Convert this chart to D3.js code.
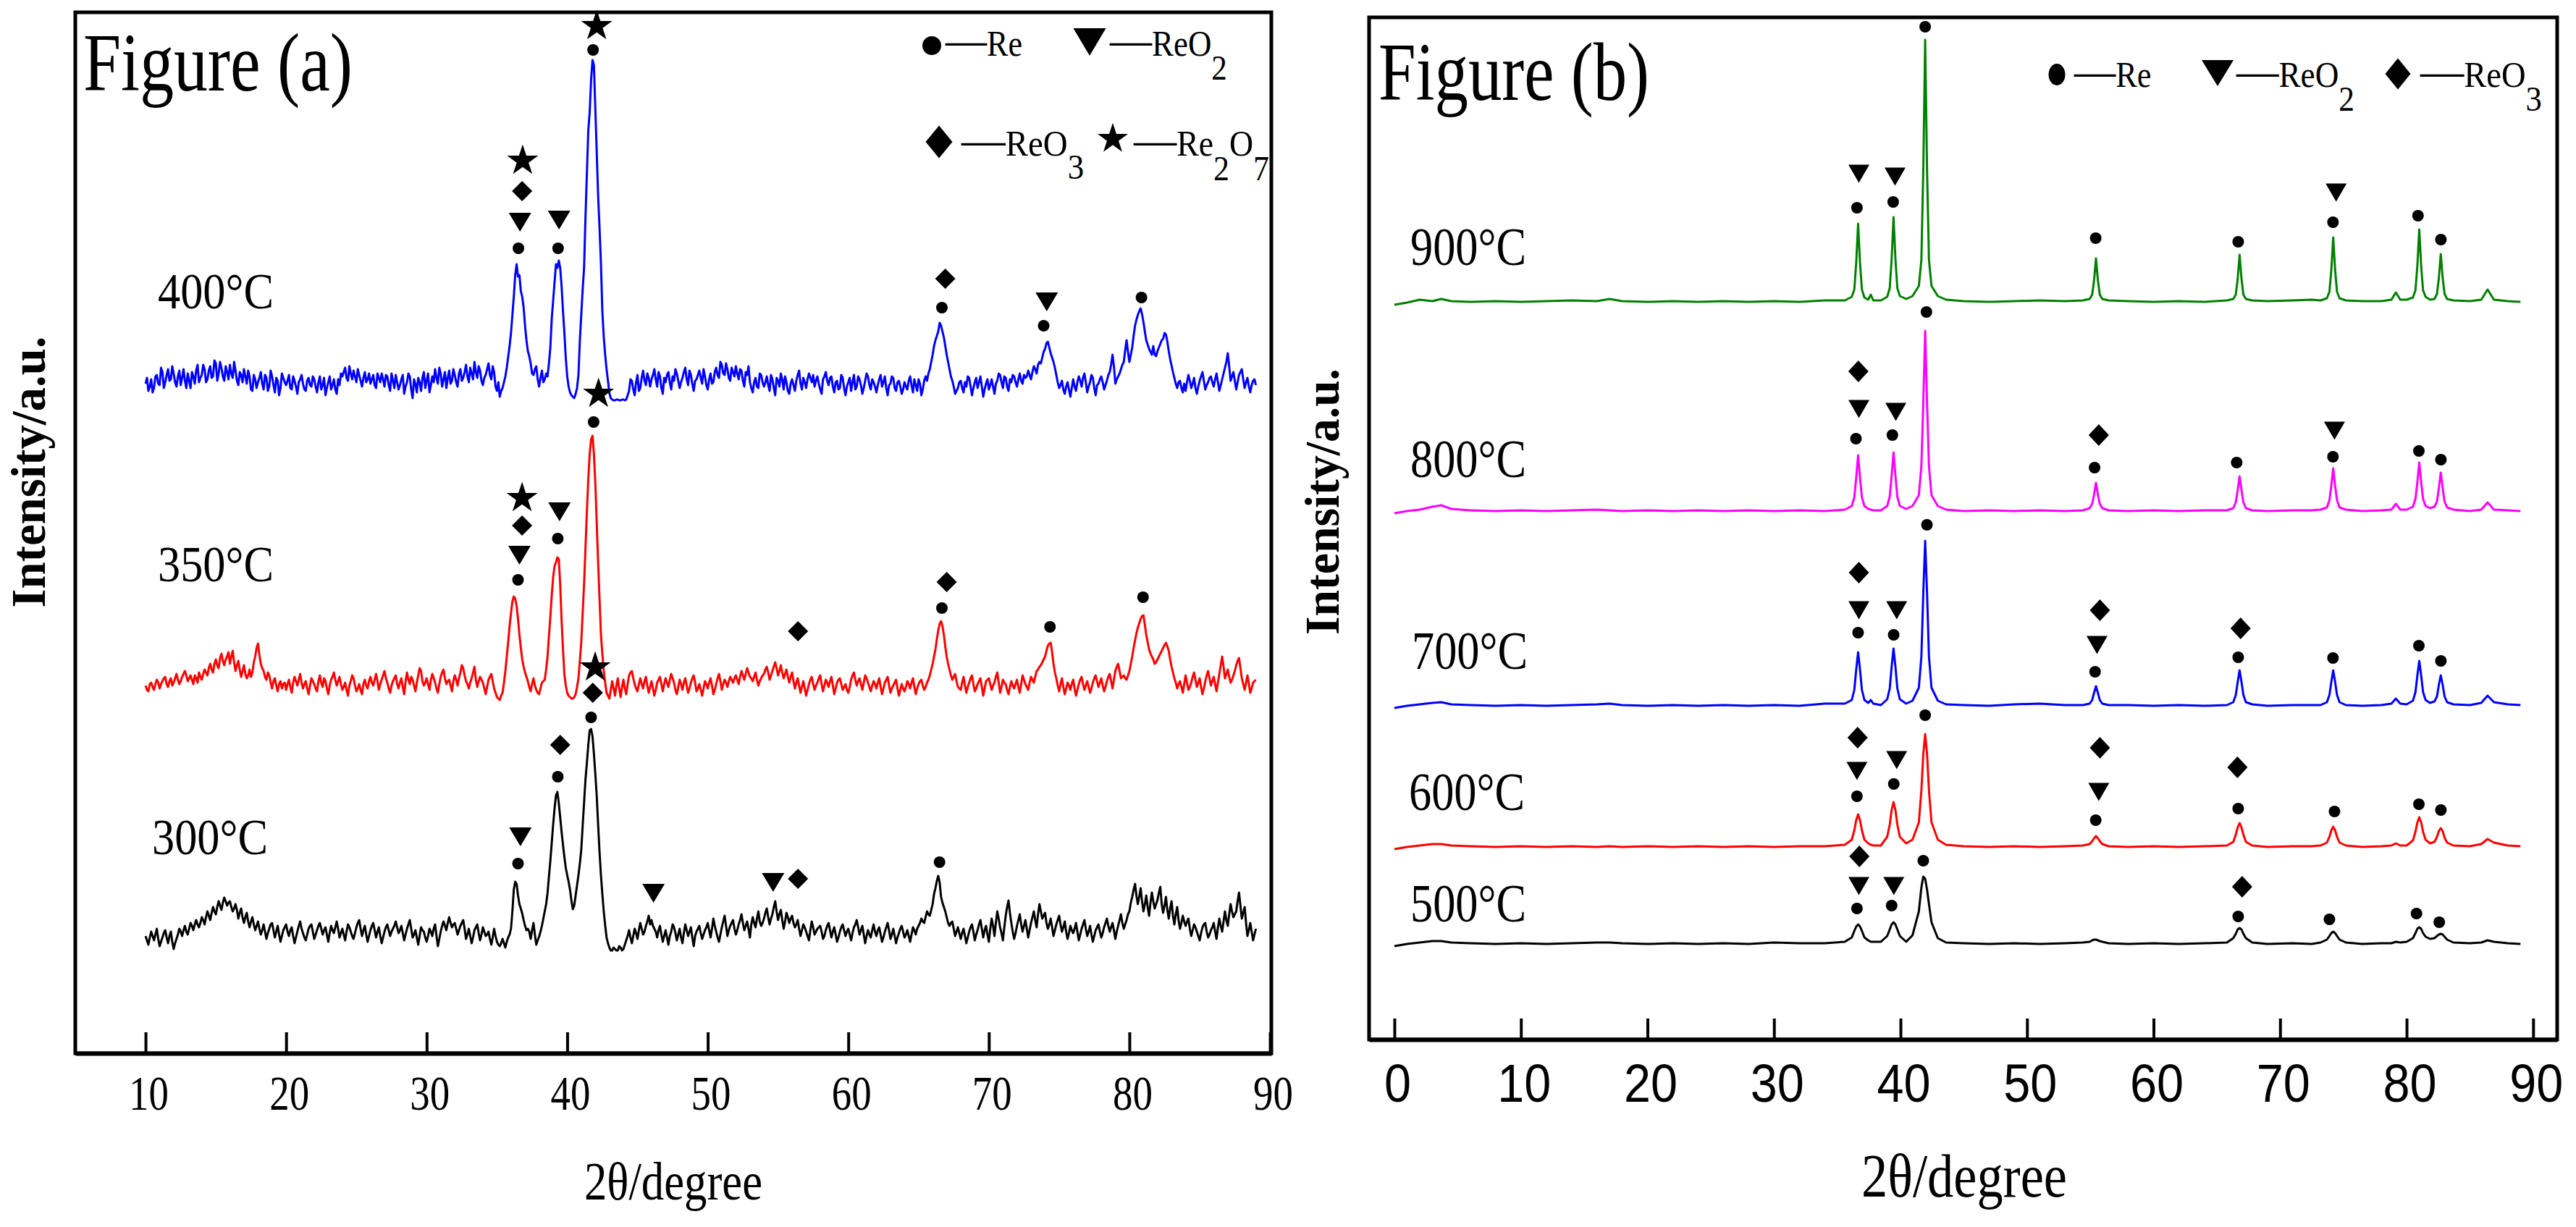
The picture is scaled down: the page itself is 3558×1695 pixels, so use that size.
<!DOCTYPE html>
<html><head><meta charset="utf-8">
<script src="https://cdn.jsdelivr.net/npm/d3@7/dist/d3.min.js"></script>
<style>html,body{margin:0;padding:0;background:#fff;} svg{display:block;}</style>
</head><body>
<svg id="chart" width="3558" height="1695"></svg>
<script>
// ================= DATA =================
// Figure (a): readings at 10.0, 10.2, ... 89.0 (main) and 10.1, 10.3, ... 88.9 (mid) degree 2-theta
const startA = 10, stepA = 0.2;
const ticksA = [10, 20, 30, 40, 50, 60, 70, 80, 90];
const seriesNamesA = ["300°C", "350°C", "400°C"];
const offsetsA = [166, 508, 925];
const intensity300 = [
 -4,-16,2,-10,6,-18,-6,4,-14,2,
 -22,-8,6,-4,10,-2,14,4,18,8,
 22,12,30,18,36,26,44,32,49,38,
 44,30,40,20,34,14,28,8,22,4,
 16,-2,12,-8,6,14,-6,10,-12,4,
 12,-4,8,-14,2,16,0,-10,6,12,
 -8,4,14,-2,8,-12,10,0,16,-6,
 6,-10,12,2,-8,8,18,-4,10,-12,
 4,14,-6,8,-14,2,12,-4,6,16,
 0,10,-10,6,18,-6,4,-16,8,2,
 -12,6,-4,12,-18,2,16,4,22,8,
 14,-2,10,18,-8,6,-14,4,12,-10,
 8,-4,2,-16,6,-12,-18,-8,-20,-6,
 6,60,68,40,27,10,6,-8,14,-16,
 -5,10,30,55,100,150,190,180,140,105,
 80,60,33,52,80,115,180,235,280,272,
 220,150,80,30,-6,-20,-24,-22,-24,-20,
 -22,-10,4,-14,6,-8,14,-2,10,24,
 18,6,-6,10,-12,4,-16,2,8,-10,
 6,-14,12,-4,8,-18,2,10,-8,4,
 14,-6,20,2,-12,8,24,-4,10,18,
 -2,12,26,4,16,-6,22,8,30,10,
 20,34,12,26,44,18,32,6,28,14,
 24,8,18,-4,12,2,-10,16,-2,6,
 10,-8,4,14,-6,8,-12,2,12,-4,
 6,-10,8,18,-2,10,-14,4,-6,12,
 -4,8,-12,2,14,-8,6,-14,0,10,
 -6,4,-12,8,-2,10,20,14,30,24,
 40,62,79,50,36,22,10,16,-4,8,
 -8,6,-14,2,12,-10,4,18,-6,10,
 -12,20,-4,30,8,-10,24,45,14,-8,
 10,26,2,18,-6,14,30,8,40,20,
 28,6,20,-4,12,24,2,16,-8,10,
 0,14,-10,6,18,-4,10,-12,4,12,
 -6,8,20,2,14,-8,10,26,6,18,
 30,50,68,40,62,30,52,24,56,34,
 46,64,28,50,20,44,12,36,6,24,
 10,20,-4,12,2,-10,8,14,-6,4,
 14,-8,20,2,30,10,40,22,30,56,
 20,36,-4,14,-10,6
];
const intensity300mid = [
 -10,-6,-4,-2,-8,-12,0,-6,-4,-12,
 -14,-2,2,4,2,6,10,12,12,14,
 18,22,24,28,30,36,38,42,44,42,
 36,34,32,28,22,22,16,16,12,10,
 6,4,2,0,12,4,2,-2,-4,8,
 2,4,-4,-6,10,6,-6,-2,10,2,
 -2,10,6,4,-2,0,4,8,6,0,
 -2,2,8,-4,0,14,6,4,-2,-4,
 10,4,2,-4,-6,8,4,2,10,8,
 4,0,-2,12,6,-2,-6,-4,4,-6,
 -4,2,6,-4,-8,10,10,14,14,12,
 6,4,14,6,-2,-4,-6,8,0,-2,
 2,-2,-8,-6,-4,-16,-14,-14,-12,-2,
 30,71,52,34,18,4,2,4,-2,-10,
 2,20,40,78,125,172,195,160,122,90,
 71,45,38,66,96,148,212,260,282,248,
 190,112,54,11,-14,-24,-20,-24,-18,-24,
 -16,-4,-6,-4,0,4,6,2,16,12,
 10,2,4,-2,-4,-6,-4,12,0,-2,
 -6,0,4,2,-6,-4,6,0,-2,8,
 4,6,10,-6,-2,16,10,4,14,6,
 4,18,14,10,6,12,14,20,16,14,
 28,22,20,36,30,26,18,16,22,20,
 14,12,6,4,8,-4,4,8,2,8,
 2,-4,10,4,2,-2,-6,8,4,2,
 -2,0,12,8,4,-2,-4,-2,4,2,
 4,-2,-6,8,4,-2,-4,-6,6,2,
 -2,-4,-2,4,6,14,16,22,26,32,
 54,72,70,42,30,14,14,6,2,0,
 0,-4,-6,8,2,-2,12,6,4,-2,
 6,10,14,20,0,8,36,28,2,0,
 18,12,10,6,4,22,18,26,30,24,
 14,12,8,4,18,12,8,2,0,4,
 6,2,-2,12,6,2,-2,-4,8,2,
 0,14,10,8,4,2,18,14,12,26,
 42,60,52,50,44,40,36,42,44,40,
 56,40,38,32,34,24,26,18,14,16,
 16,6,4,8,-4,0,12,2,-2,8,
 2,8,10,16,18,26,30,26,44,38,
 28,14,4,2,-2
];
const intensity350 = [
 0,-8,4,-6,8,-4,6,12,-2,10,
 4,16,2,12,20,6,14,2,10,18,
 8,22,14,30,18,36,24,44,28,40,
 30,48,20,34,12,28,10,22,18,40,
 58,30,20,8,14,-4,10,-8,6,2,
 -6,8,-10,12,0,16,-4,6,-12,10,
 2,-8,14,-2,6,-12,8,18,0,12,
 -6,4,-14,6,10,-8,2,-12,8,-4,
 12,0,16,-6,8,20,4,-10,6,14,
 -4,10,-12,18,2,8,-8,14,20,0,
 10,-6,16,4,-10,12,22,2,8,-8,
 14,0,18,24,6,-4,10,26,-2,12,
 4,-12,8,16,-4,-16,-20,-10,20,60,
 100,123,110,70,36,18,6,-8,10,-6,
 -12,4,8,40,95,150,170,175,90,15,
 -10,-16,-18,-12,10,60,140,240,320,345,
 280,170,70,20,-10,-18,6,-14,10,-16,
 8,-12,14,20,2,-8,10,-4,12,-10,
 6,-14,4,12,-8,10,-2,16,4,-12,
 8,-6,10,-10,4,14,-8,2,-14,6,
 -4,10,-12,2,16,-6,8,-2,12,4,
 14,2,20,8,24,12,6,18,0,10,
 16,26,8,20,32,14,28,10,22,4,
 18,-4,10,-10,6,-14,2,12,-6,4,
 14,-8,8,-2,12,-12,4,10,-6,2,
 -10,8,18,0,10,-6,14,4,-8,6,
 -4,10,-12,4,12,-10,0,8,-14,2,
 -8,6,-4,10,-12,2,8,-6,4,14,
 30,50,76,89,70,40,22,8,16,-2,
 -6,12,-10,4,14,-8,2,10,-14,6,
 10,-6,4,18,-10,8,2,-12,6,-4,
 8,-10,14,2,-6,12,4,20,26,32,
 40,55,59,30,10,-8,10,-12,4,-6,
 8,-14,2,12,-6,6,-10,4,14,-2,
 10,-8,6,16,-4,20,30,10,14,8,
 20,40,62,80,92,97,70,50,40,30,
 36,44,52,59,48,26,10,-4,6,-10,
 14,-6,4,18,-2,10,-12,6,20,0,
 12,-8,16,40,10,22,4,14,28,38,
 10,-6,14,-10,4,8
];
const intensity350mid = [
 -6,2,-2,2,4,2,10,2,6,0,
 10,8,6,16,14,10,8,14,4,12,
 16,18,24,22,30,28,38,34,36,46,
 40,32,28,22,20,16,14,12,32,52,
 42,24,12,18,4,6,0,2,-4,4,
 2,-2,4,6,8,4,2,-4,0,6,
 -4,6,4,10,-4,0,12,8,6,2,
 -2,-6,0,14,0,-4,-6,2,0,6,
 4,8,6,2,14,10,-4,0,10,2,
 4,-2,6,8,12,0,4,24,6,4,
 2,8,10,-4,2,18,10,6,0,6,
 8,10,28,14,2,4,18,8,6,8,
 -4,-2,12,6,-10,-18,-14,4,40,82,
 116,120,92,52,26,12,-2,2,0,-10,
 -4,6,22,68,125,165,177,140,50,0,
 -14,-18,-16,-2,34,100,190,285,340,320,
 225,120,44,4,-14,-6,-4,0,-4,-2,
 -4,2,18,10,-4,2,2,6,0,-2,
 -4,-6,8,2,2,4,8,10,-6,-2,
 2,4,0,-4,10,4,-4,-6,-4,2,
 4,0,-6,10,6,2,4,6,8,10,
 8,12,14,16,18,10,12,8,6,14,
 22,18,14,26,24,20,18,16,12,12,
 6,4,0,-2,-4,-6,8,2,0,10,
 2,0,4,6,0,-4,8,2,-2,-6,
 -2,14,8,6,2,4,10,-2,0,2,
 4,-2,-4,8,0,-4,4,-4,-6,-4,
 -2,2,4,-2,-4,6,0,-2,8,22,
 40,64,85,82,54,30,14,12,6,-4,
 4,0,-2,10,2,-4,6,-2,-4,8,
 2,0,12,4,-2,4,-6,-2,0,2,
 -2,2,8,-2,4,8,12,22,28,36,
 48,58,46,18,0,2,-2,-4,0,2,
 -4,-6,8,2,0,-2,-4,10,6,4,
 0,-2,12,6,8,26,20,12,10,14,
 30,52,72,86,96,84,60,44,36,32,
 40,48,56,54,36,18,4,2,-2,2,
 4,-2,12,8,4,-2,-4,14,10,6,
 2,4,28,26,16,12,8,20,34,24,
 2,4,2,-4,6
];
const intensity400 = [
 0,-10,6,-6,12,-2,16,2,20,6,
 14,-4,18,8,4,14,-6,10,18,2,
 12,20,6,24,10,28,14,22,4,16,
 26,8,18,-2,12,20,0,10,-10,6,
 2,16,-8,8,-4,10,-12,4,-6,8,
 -2,12,-8,4,-14,6,0,-10,8,-4,
 6,-12,10,-2,-16,2,-8,6,-14,-2,
 10,22,4,14,18,2,12,-4,16,6,
 0,12,-6,8,14,-4,10,-10,4,12,
 -8,6,-14,2,10,-20,0,8,-10,16,
 4,-12,10,20,0,14,6,-6,18,4,
 12,-4,20,8,26,2,14,30,8,18,
 -2,12,28,6,16,-10,-18,-6,10,37,
 70,120,165,150,120,80,45,28,12,24,
 -4,18,6,10,50,115,165,170,135,70,
 10,-12,-18,-14,12,95,160,290,375,447,
 380,260,166,65,20,-13,-22,-23,-22,-23,
 -22,-22,-10,4,-16,12,-6,18,-2,8,
 6,20,-4,10,-14,2,16,-8,4,14,
 -6,8,22,-2,12,-10,6,18,0,10,
 -8,14,2,22,8,26,12,20,4,16,
 24,6,18,-4,12,2,-12,8,-6,12,
 -4,10,-10,6,-16,4,14,-8,2,-14,
 6,-10,12,0,8,-6,14,2,-4,10,
 -8,6,16,-2,10,-12,4,-6,8,-16,
 2,-10,12,-4,6,-14,4,10,-8,2,
 -12,6,-4,10,-16,0,8,-10,4,-14,
 2,-8,10,-12,-2,6,-16,4,4,20,
 40,60,72,80,64,40,20,4,-14,-6,
 4,-12,-4,8,-16,2,-6,10,-18,0,
 -8,6,-14,4,12,-6,8,-10,2,10,
 -4,14,0,8,18,6,24,14,30,36,
 48,58,42,30,12,-6,4,-14,2,-18,
 6,-10,10,-4,14,-12,2,8,-16,0,
 10,-8,4,16,40,0,10,20,30,60,
 30,50,80,95,104,85,60,48,40,40,
 45,55,62,68,45,25,8,-6,4,-12,
 -10,12,-6,8,-14,4,16,-8,2,10,
 -4,14,-10,6,22,42,4,16,-8,12,
 20,-6,8,-12,4,-2
];
const intensity400mid = [
 8,-4,-12,10,0,22,-6,12,4,24,
 2,10,-2,20,-6,4,16,0,26,8,
 26,2,18,8,32,4,30,10,24,6,
 14,30,4,16,2,10,18,-8,12,-6,
 8,0,12,-10,18,-2,8,-16,14,2,
 4,-6,10,-4,2,12,-8,4,-2,10,
 -4,2,-8,8,-6,10,-2,-8,6,14,
 16,8,24,6,10,20,4,8,2,14,
 6,-2,14,2,6,12,-2,14,-6,2,
 -2,12,-4,14,-8,6,-12,2,8,-6,
 14,-2,2,8,22,-4,16,8,0,20,
 2,14,4,16,10,22,6,16,24,4,
 8,20,12,24,-4,2,-10,2,22,52,
 95,150,148,128,105,60,38,14,20,6,
 8,2,14,28,90,140,160,160,100,35,
 -4,-16,-20,-6,60,130,230,350,420,440,
 320,215,100,40,4,-20,-23,-22,-23,-22,
 -23,-16,6,-8,2,-10,8,4,14,-4,
 12,6,16,-6,8,12,2,10,20,4,
 2,16,6,18,0,4,12,8,20,-2,
 6,0,16,12,30,14,28,8,22,10,
 14,20,4,16,24,-6,2,-4,14,2,
 2,-2,12,-6,8,-4,6,10,-10,0,
 -2,4,18,-8,2,6,8,12,4,0,
 -14,10,4,8,-4,2,-8,12,-6,-4,
 8,2,-8,10,-2,-6,14,-2,6,-4,
 -2,12,2,-6,-2,10,-6,2,-4,-8,
 -4,4,-2,6,-10,0,-8,10,14,30,
 52,66,84,72,52,30,10,-4,-10,2,
 -6,2,10,-4,-6,8,2,-4,-8,6,
 -2,-4,0,14,2,10,-4,6,12,2,
 6,4,12,10,12,16,20,26,28,44,
 56,50,36,22,2,-2,-8,-4,-8,-6,
 -4,2,4,8,2,-4,12,-6,-2,6,
 2,-2,12,26,24,6,14,26,46,44,
 40,66,88,100,96,72,54,44,52,38,
 50,60,70,58,34,16,0,2,-6,0,
 2,4,0,-6,-4,10,4,-2,8,2,
 6,2,-2,14,30,24,10,4,2,16,
 6,2,-4,-2,6
];

// Figure (b): measured 2-theta positions and intensities
const ticksB = [0, 10, 20, 30, 40, 50, 60, 70, 80, 90];
const seriesNamesB = ["500°C", "600°C", "700°C", "800°C", "900°C"];
const offsetsB = [132, 266, 461, 730, 1019];
const twoThetaB = [
 0,1,2,3,3.7,4.5,6,8,10,12,14,16,17,18,20,22,24,26,28,30,32,34,35.6,
 36.15,36.35,36.5,36.65,36.8,36.95,37.15,37.45,37.65,37.85,38.45,
 38.95,39.15,39.3,39.45,39.6,39.75,39.95,40.45,
 40.95,41.45,41.65,41.8,41.95,42.1,42.25,42.45,42.95,43.6,
 45,47,49,51,53,54.4,
 54.95,55.15,55.3,55.45,55.6,55.75,55.95,56.45,
 58,60,62,64,65.8,
 66.3,66.5,66.65,66.8,66.95,67.1,67.3,67.8,
 69,71,72.5,73.2,
 73.7,73.9,74.05,74.2,74.35,74.5,74.7,75.2,
 76.5,78,78.8,79.15,79.5,80,
 80.5,80.7,80.85,81.0,81.15,81.3,81.5,81.85,82.2,82.4,82.55,82.7,82.85,83.0,83.2,83.7,
 85,85.9,86.4,86.9,88,89
];
const intensity500 = [
 -3,0,2,4,4,2,1,0,1,0,1,2,2,1,0,1,0,1,0,2,1,1,3,
 9,18,24,27,24,18,9,5,3,3,3,
 11,20,27,30,27,20,11,3,
 12,45,78,93,90,75,55,30,8,2,
 1,0,1,0,1,2,
 3,5,6,6,5,4,3,1,
 0,1,0,1,2,
 8,14,20,22,20,14,8,2,
 0,1,0,2,
 6,11,15,17,15,11,6,2,
 0,1,1,3,2,3,
 8,15,21,23,21,15,10,7,8,11,13,14,13,10,6,2,
 1,2,5,3,1,0
];
const intensity600 = [
 -3,0,2,4,4,2,1,0,1,0,1,0,1,0,1,0,1,0,1,0,1,1,3,
 10,23,37,45,37,23,10,5,3,2,2,
 14,31,51,62,51,31,14,5,
 10,34,78,128,156,128,78,34,10,3,
 1,0,1,0,1,2,
 4,8,12,15,12,8,4,1,
 0,1,0,1,2,
 7,17,27,33,27,17,7,2,
 0,1,1,2,
 6,14,23,28,23,14,6,2,
 0,1,2,5,2,2,
 9,21,34,41,34,21,10,5,7,14,22,26,22,13,6,2,
 1,4,11,6,2,1
];
const intensity700 = [
 -3,0,2,4,5,2,1,0,1,0,1,2,3,1,0,1,0,1,0,1,0,3,3,
 8,22,50,74,50,22,8,4,8,3,1,
 9,24,54,79,54,24,9,3,
 7,25,68,155,228,155,68,25,7,2,
 1,0,2,3,1,1,
 3,8,18,27,18,8,3,1,
 1,0,1,0,1,
 5,15,33,49,33,15,5,2,
 0,1,1,1,
 5,15,33,49,33,15,5,1,
 0,1,3,10,3,2,
 7,19,42,62,42,19,8,4,6,13,29,42,29,13,5,2,
 1,4,14,5,2,1
];
const intensity800 = [
 -3,0,2,6,8,3,1,0,1,0,1,2,1,0,1,0,1,0,1,0,1,0,2,
 7,19,46,77,46,19,7,3,2,1,1,
 7,20,49,81,49,20,7,3,
 7,22,62,149,249,149,62,22,7,2,
 0,1,0,1,0,1,
 4,10,23,39,23,10,4,1,
 0,1,0,1,1,
 4,12,29,48,29,12,4,1,
 0,1,1,2,
 5,15,35,59,35,15,5,2,
 0,1,2,10,2,2,
 6,17,40,67,40,17,7,4,6,13,32,53,32,13,5,2,
 0,2,12,2,1,0
];
const intensity900 = [
 -4,-1,3,1,4,1,0,1,0,1,2,1,4,1,0,1,0,1,0,1,0,2,2,
 7,17,54,108,54,17,6,3,10,2,2,
 7,19,59,117,59,19,8,4,
 8,22,58,181,362,181,58,22,8,3,
 1,0,1,2,1,2,
 4,10,30,60,30,10,4,2,
 1,0,1,0,2,
 4,10,32,65,32,10,4,2,
 1,2,3,2,
 5,14,44,89,44,14,5,2,
 1,1,3,13,3,3,
 6,16,50,100,50,16,7,3,4,11,33,66,33,11,4,2,
 1,3,17,3,1,0
];

// Phase identification marks: [2theta, intensity (a.u.), phase]
// phase: c = Re, t = ReO2, d = ReO3, s = Re2O7
const marksA = [
 [36.53,1112,'c'],[36.64,1148,'t'],[36.79,1191,'d'],[36.83,1235,'s'],
 [39.35,1112,'c'],[39.42,1151,'t'],
 [41.84,1386,'c'],[42.1,1421,'s'],
 [66.66,1030,'c'],[66.9,1070,'d'],
 [73.9,1005,'c'],[74.12,1038,'t'],
 [80.86,1044,'c'],
 [41.88,872,'c'],[42.23,913,'s'],
 [36.5,654,'c'],[36.6,688,'t'],[36.79,729,'d'],[36.79,769,'s'],
 [39.33,711,'c'],[39.45,748,'t'],
 [56.42,583,'d'],
 [66.66,615,'c'],[67.0,651,'d'],
 [74.35,589,'c'],
 [80.97,630,'c'],
 [41.7,464,'c'],[41.82,498,'d'],[41.99,535,'s'],
 [39.33,382,'c'],[39.5,426,'d'],
 [36.5,262,'c'],[36.67,299,'t'],
 [46.14,221,'t'],
 [54.65,236,'t'],[56.42,241,'d'],
 [66.49,264,'c']
];
const marksB = [
 [41.95,1399,'c'],[36.56,1149,'c'],[36.71,1196,'t'],[39.42,1157,'c'],[39.57,1192,'t'],
 [55.43,1107,'c'],[66.69,1102,'c'],[74.18,1129,'c'],[74.43,1170,'t'],[80.9,1138,'c'],[82.71,1105,'c'],
 [42.05,1005,'c'],[36.48,830,'c'],[36.71,871,'t'],[36.67,923,'d'],[39.36,835,'c'],[39.63,867,'t'],
 [55.34,790,'c'],[55.67,835,'d'],[66.57,797,'c'],[74.18,805,'c'],[74.3,841,'t'],[80.97,813,'c'],[82.71,801,'c'],
 [42.09,711,'c'],[36.65,562,'c'],[36.71,593,'t'],[36.71,645,'d'],[39.46,559,'c'],[39.7,593,'t'],
 [55.38,508,'c'],[55.53,545,'t'],[55.76,593,'d'],[66.69,528,'c'],[66.88,568,'d'],[74.18,527,'c'],[80.97,544,'c'],[82.71,523,'c'],
 [41.95,448,'c'],[36.56,336,'c'],[36.56,371,'t'],[36.61,417,'d'],[39.47,353,'c'],[39.7,386,'t'],
 [55.43,303,'c'],[55.67,342,'t'],[55.76,403,'d'],[66.69,319,'c'],[66.63,376,'d'],[74.3,315,'c'],[80.97,325,'c'],[82.71,317,'c'],
 [41.8,247,'c'],[36.56,181,'c'],[36.71,212,'t'],[36.75,253,'d'],[39.3,185,'c'],[39.47,212,'t'],
 [66.69,170,'c'],[67.0,211,'d'],[73.9,166,'c'],[80.78,174,'c'],[82.58,162,'c']
];

// Legend entries: [symbol, formula parts]  (part: [text, isSubscript])
const legendA = [
 ['c', [['Re',0]]],
 ['t', [['ReO',0],['2',1]]],
 ['d', [['ReO',0],['3',1]]],
 ['s', [['Re',0],['2',1],['O',0],['7',1]]]
];
const legendB = [
 ['c', [['Re',0]]],
 ['t', [['ReO',0],['2',1]]],
 ['d', [['ReO',0],['3',1]]]
];

// ================= LAYOUT / STYLE =================
const serif = "'Liberation Serif','Times New Roman',Times,serif";
const sans = "'Liberation Sans',Arial,Helvetica,sans-serif";
const colorsA = ["#000000", "#ff0000", "#0000ff"];
const colorsB = ["#000000", "#ff0000", "#0000ff", "#ff00ff", "#008000"];
const panelA = {left:104, right:1756, top:17, bottom:1455, xDomain:[5, 90.1], yDomain:[0, 1438]};
const panelB = {left:1891, right:3532, top:24, bottom:1436, xDomain:[-2, 91.9], yDomain:[0, 1412]};
const labelPosA = [[210,1180],[218,803],[218,425.5]];
const labelPosB = [[1948,1273],[1946,1119],[1950,924],[1948,658.5],[1948,366]];
const markSize = {
  A: {c:[8,8], t:[31,26], d:[28,28], s:[43,40]},
  B: {c:[8,8], t:[29,25], d:[28,30], s:[43,40]}
};
// legend layout: symbol centre, symbol size, text start x, baseline, horizontal scale, subscript shift
const legendLayoutA = [
 {sx:1287, sy:63, w:13, h:13, tx:1306, ty:77, k:0.864, sub:33},
 {sx:1505, sy:58, w:45, h:38, tx:1533, ty:77, k:0.88, sub:33},
 {sx:1297, sy:196, w:37, h:45, tx:1328, ty:215, k:0.92, sub:32},
 {sx:1537, sy:190, w:42, h:38, tx:1566, ty:215, k:0.897, sub:34}
];
const legendLayoutB = [
 {sx:2841, sy:103, w:11.5, h:15, tx:2865, ty:120, k:0.868, sub:33},
 {sx:3063, sy:101, w:44, h:36, tx:3089, ty:120, k:0.886, sub:33},
 {sx:3312, sy:102, w:35, h:43, tx:3343, ty:120, k:0.913, sub:33}
];

const svg = d3.select('#chart');
svg.append('rect').attr('width',3558).attr('height',1695).attr('fill','#fff');

function addText(parent, str, x, y, o) {
  const t = parent.append('text').attr('x', x).attr('y', y).text(str)
    .attr('font-family', o.family || serif).attr('font-size', o.size).attr('fill', '#000');
  if (o.weight) t.attr('font-weight', o.weight);
  if (o.len) t.attr('textLength', o.len).attr('lengthAdjust', 'spacingAndGlyphs');
  if (o.anchor) t.attr('text-anchor', o.anchor);
  if (o.transform) t.attr('transform', o.transform);
  return t;
}

function markPath(type, w, h) {
  if (type === 't') return `M${-w/2},${-h/2}L${w/2},${-h/2}L0,${h/2}Z`;
  if (type === 'd') return `M0,${-h/2}L${w/2},0L0,${h/2}L${-w/2},0Z`;
  if (type === 's') { const R = w / 1.902; return d3.symbol(d3.symbolStar, R*R/0.8908130915292852)(); }
  return null;
}
function drawMark(g, type, cx, cy, w, h) {
  if (type === 'c') {
    g.append('ellipse').attr('cx', cx).attr('cy', cy).attr('rx', w).attr('ry', h).attr('fill', '#000');
  } else {
    g.append('path').attr('d', markPath(type, w, h))
      .attr('transform', `translate(${cx},${cy + (type === 's' ? (h*0.05) : 0)})`).attr('fill', '#000');
  }
}

function drawPanel(p, key, ticks, tickFont, tickSize, tickScaleX, seriesList, offsets, colors, marks) {
  const g = svg.append('g');
  const x = d3.scaleLinear().domain(p.xDomain).range([p.left, p.right]);
  const y = d3.scaleLinear().domain(p.yDomain).range([p.bottom, p.top]);
  g.append('rect').attr('x', p.left).attr('y', p.top)
    .attr('width', p.right - p.left).attr('height', p.bottom - p.top)
    .attr('fill', 'none').attr('stroke', '#000').attr('stroke-width', 5);
  const ax = g.append('g').attr('transform', `translate(0,${p.bottom})`)
    .call(d3.axisBottom(x).tickValues(ticks).tickSizeInner(-29).tickSizeOuter(0).tickPadding(0).tickFormat(d3.format('d')));
  ax.select('.domain').attr('stroke-width', 6).attr('stroke', '#000');
  ax.selectAll('.tick line').attr('stroke-width', 4).attr('stroke', '#000');
  ax.selectAll('.tick text').attr('fill', '#000').attr('font-family', tickFont).attr('font-size', tickSize)
    .attr('dy', null).attr('y', null)
    .attr('transform', `translate(4,${key === 'A' ? 78 : 86}) scale(${tickScaleX},1)`);
  ax.attr('font-size', null).attr('font-family', null);
  const line = d3.line().x(d => x(d[0])).y(d => y(d[1]));
  seriesList.forEach((pts, i) => {
    g.append('path').datum(pts.map(d => [d[0], d[1] + offsets[i]]))
      .attr('d', line).attr('fill', 'none').attr('stroke', colors[i])
      .attr('stroke-width', 3).attr('stroke-linejoin', 'round');
  });
  const ms = markSize[key];
  marks.forEach(m => {
    const [w, h] = ms[m[2]];
    drawMark(g, m[2], x(m[0]), y(m[1]), w, h);
  });
}

function mergeA(main, mid) {
  const out = [];
  main.forEach((v, i) => {
    out.push([startA + i * stepA, v]);
    if (i < mid.length) out.push([startA + (i + 0.5) * stepA, mid[i]]);
  });
  return out;
}
const ptsA = [[intensity300, intensity300mid], [intensity350, intensity350mid], [intensity400, intensity400mid]]
  .map(([a, b]) => mergeA(a, b));
const ptsB = [intensity500, intensity600, intensity700, intensity800, intensity900].map(arr => arr.map((v, i) => [twoThetaB[i], v]));

drawPanel(panelA, 'A', ticksA, serif, 67, 0.82, ptsA, offsetsA, colorsA, marksA);
drawPanel(panelB, 'B', ticksB, sans, 74, 0.9, ptsB, offsetsB, colorsB, marksB);

// titles
addText(svg, 'Figure (a)', 115, 125, {size:115, len:372});
addText(svg, 'Figure (b)', 1904, 138, {size:115, len:374});
seriesNamesA.forEach((s, i) => addText(svg, s, labelPosA[i][0], labelPosA[i][1], {size:70, len:160}));
seriesNamesB.forEach((s, i) => addText(svg, s, labelPosB[i][0], labelPosB[i][1], {size:74, len:160}));

// axis titles
addText(svg, '2θ/degree', 930, 1657, {size:74, len:246, anchor:'middle'});
addText(svg, '2θ/degree', 2713, 1653, {size:84, len:284, anchor:'middle'});
addText(svg, 'Intensity/a.u.', 0, 0, {size:67, weight:'bold', len:375, anchor:'middle', transform:'translate(62,652) rotate(-90)'});
addText(svg, 'Intensity/a.u.', 0, 0, {size:67, weight:'bold', len:368, anchor:'middle', transform:'translate(1849,693) rotate(-90)'});

// legends
function drawLegend(entries, layout) {
  entries.forEach((e, i) => {
    const L = layout[i];
    drawMark(svg, e[0], L.sx, L.sy, L.w, L.h);
    const t = svg.append('text').attr('transform', `translate(${L.tx},${L.ty}) scale(${L.k},1)`)
      .attr('font-family', serif).attr('fill', '#000');
    t.append('tspan').attr('font-size', 66).text('—');
    let shifted = false;
    e[1].forEach(([str, sub]) => {
      const ts = t.append('tspan').attr('font-size', sub ? 49 : 51).text(str);
      if (sub && !shifted) { ts.attr('dy', L.sub); shifted = true; }
      else if (!sub && shifted) { ts.attr('dy', -L.sub); shifted = false; }
    });
  });
}
drawLegend(legendA, legendLayoutA);
drawLegend(legendB, legendLayoutB);
</script>
</body></html>
